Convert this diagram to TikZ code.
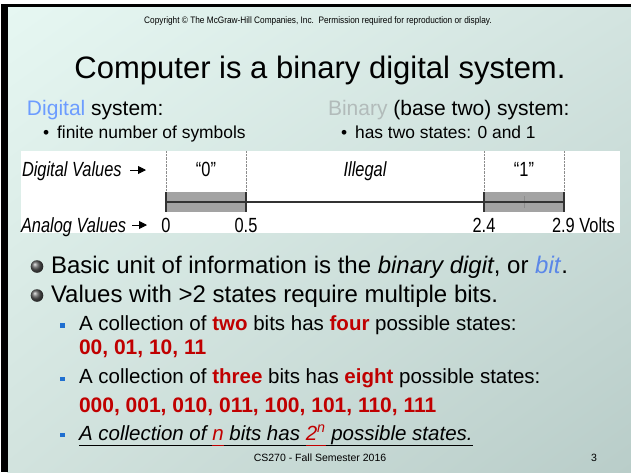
\documentclass[tikz,border=0pt]{standalone}
\usepackage{fontspec}
\setmainfont{Liberation Sans}
\newfontfamily\narrowf[FakeStretch=0.8]{Liberation Sans}
\newfontfamily\smallf[FakeStretch=0.88]{Liberation Sans}
\usetikzlibrary{arrows.meta,shadings}
\definecolor{bgUL}{HTML}{E6F7F2}
\definecolor{bgUR}{HTML}{D3E4E0}
\definecolor{bgLL}{HTML}{D2E3DE}
\definecolor{bgLR}{HTML}{B9CDC9}
\definecolor{dred}{HTML}{C00000}
\definecolor{ltblue}{HTML}{6C9CFF}
\definecolor{bitblue}{HTML}{5B87E8}
\definecolor{ltgray}{HTML}{B2BBBA}
\definecolor{sqblue}{HTML}{1F6FD0}
\definecolor{barfill}{HTML}{A3A3A3}
\newcommand{\ulx}[1]{\underline{#1\vphantom{Apy}}}
\tikzset{
  txt/.style={inner sep=0pt, outer sep=0pt, anchor=base west},
  diag/.style={inner sep=0pt, outer sep=0pt, font=\narrowf\fontsize{20.5}{24}\selectfont},
  ball/.style={ball color=black!65},
  sq/.style={fill=sqblue},
  tick/.style={line width=2pt, black!80},
  vguide/.style={densely dotted, line width=0.4pt, black!45},
  pointer/.style={line width=0.9pt, -{Triangle[length=8pt,width=8pt]}}
}
\begin{document}
\begin{tikzpicture}[x=1pt,y=-1pt]
\useasboundingbox (0,0) rectangle (631,472);
\fill[white] (0,0) rectangle (631,472);
\shade[upper left=bgUL, upper right=bgUR, lower left=bgLL, lower right=bgLR] (7,7) rectangle (631,472);
\fill[black] (1,4) rectangle (8,472);
\fill[black] (1,4) rectangle (631,7);

% header
\node[txt, anchor=base, font=\smallf\fontsize{9.4}{11}\selectfont] (copy) at (318,23) {Copyright © The McGraw-Hill Companies, Inc.\ \ Permission required for reproduction or display.};
\node[txt, anchor=base, font=\fontsize{31}{36}\selectfont] (title) at (320,78) {Computer is a binary digital system.};

\node[txt, font=\fontsize{21}{25}\selectfont] (dsys) at (27,115) {\textcolor{ltblue}{Digital} system:};
\node[txt, font=\fontsize{17.4}{21}\selectfont] (dsub) at (43,138) {•\hspace{8pt}finite number of symbols};
\node[txt, font=\fontsize{21}{25}\selectfont] (bsys) at (328,115) {\textcolor{ltgray}{Binary} (base two) system:};
\node[txt, font=\fontsize{17.4}{21}\selectfont] (bsub) at (341,138) {•\hspace{8pt}has two states: 0 and 1};

% diagram
\fill[white] (21,151) rectangle (620,233);
\coordinate (a0) at (166,202);
\coordinate (a05) at (246,202);
\coordinate (a24) at (484,202);
\coordinate (a29) at (564,202);
\foreach \c in {a0,a05,a24,a29} {\draw[vguide] (\c) ++(0,-51) -- ++(0,41);}
\fill[barfill] (166,192) rectangle (246,212);
\fill[barfill] (484,192) rectangle (564,212);
\draw[line width=0.4pt, black!45] (524,196) -- (524,208);
\draw[line width=1.6pt, black!80] (a0) -- (a29);
\foreach \c in {a0,a05,a24,a29} {\draw[tick] (\c) ++(0,-10) -- ++(0,20);}

\node[diag, anchor=base west] (dv) at (22,176) {\itshape Digital Values};
\coordinate (dvs) at (130,170); \coordinate (dve) at (146,170);
\draw[pointer] (dvs) -- (dve);
\node[diag, anchor=base west] (av) at (21,232) {\itshape Analog Values};
\coordinate (avs) at (132,225); \coordinate (ave) at (147,225);
\draw[pointer] (avs) -- (ave);

\node[diag, anchor=base] (q0) at (206,176) {“0”};
\node[diag, anchor=base] (ill) at (365,176) {\itshape Illegal};
\node[diag, anchor=base] (q1) at (524,176) {“1”};
\node[diag, anchor=base] (l0) at (166,232) {0};
\node[diag, anchor=base] (l05) at (246,232) {0.5};
\node[diag, anchor=base] (l24) at (484,232) {2.4};
\node[diag, anchor=base west] (l29) at (552,232) {2.9 Volts};

% bullets
\shade[ball] (37,266.5) circle (6.3);
\node[txt, font=\fontsize{24}{28}\selectfont] (b1) at (51,273) {Basic unit of information is the \textit{binary digit}, or \textcolor{bitblue}{\textit{bit}}.};
\shade[ball] (37,295.5) circle (6.3);
\node[txt, font=\fontsize{24}{28}\selectfont] (b2) at (51,302) {Values with >2 states require multiple bits.};

\fill[sq] (60,323) rectangle (64.5,327.5);
\node[txt, font=\fontsize{20.5}{25}\selectfont] (s1) at (79,330) {A collection of \textcolor{dred}{\bfseries two} bits has \textcolor{dred}{\bfseries four} possible states:};
\node[txt, font=\fontsize{21}{25}\selectfont\bfseries, text=dred] (s1v) at (79,354) {00, 01, 10, 11};
\fill[sq] (60,376.5) rectangle (64.5,381);
\node[txt, font=\fontsize{20.5}{25}\selectfont] (s2) at (79,383) {A collection of \textcolor{dred}{\bfseries three} bits has \textcolor{dred}{\bfseries eight} possible states:};
\node[txt, font=\fontsize{21}{25}\selectfont\bfseries, text=dred] (s2v) at (79,412) {000, 001, 010, 011, 100, 101, 110, 111};
\fill[sq] (60,432.5) rectangle (64.5,437);
\node[txt, font=\fontsize{20.5}{25}\selectfont\itshape] (s3) at (79,440) {\ulx{A collection of }{\color{dred}\ulx{n}}\ulx{ bits has }{\color{dred}\ulx{2\textsuperscript{n}}}\ulx{ possible states.}};

% footer
\node[txt, anchor=base, font=\fontsize{10.5}{12}\selectfont] (foot) at (320,461) {CS270 - Fall Semester 2016};
\node[txt, anchor=base, font=\fontsize{10.5}{12}\selectfont] (pg) at (594,461) {3};
\end{tikzpicture}
\end{document}
